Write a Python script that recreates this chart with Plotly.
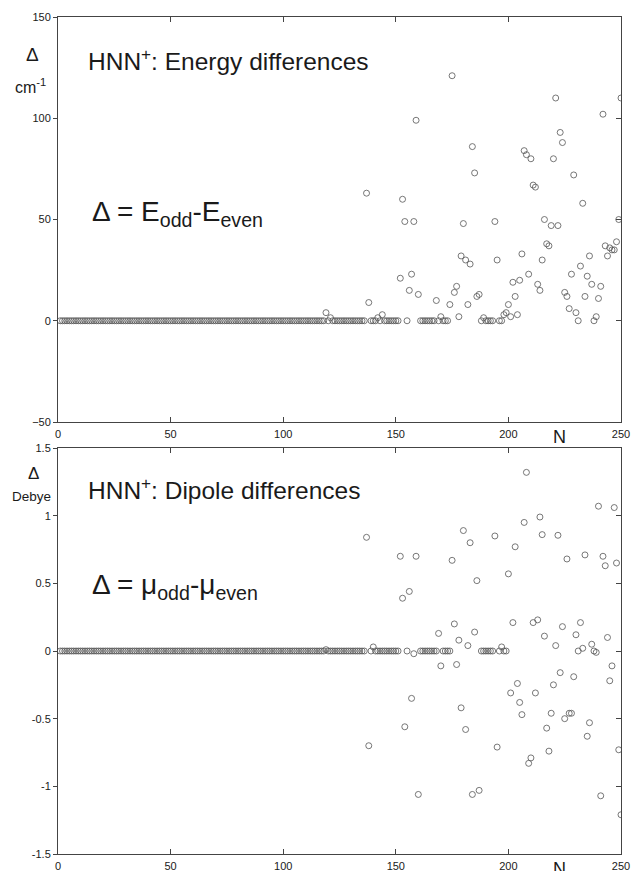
import plotly.graph_objects as go

# ---------------- data ----------------
N = list(range(1, 251))

energy_diff = [
    0, 0, 0, 0, 0, 0, 0, 0, 0, 0,            # 1-10
    0, 0, 0, 0, 0, 0, 0, 0, 0, 0,            # 11-20
    0, 0, 0, 0, 0, 0, 0, 0, 0, 0,            # 21-30
    0, 0, 0, 0, 0, 0, 0, 0, 0, 0,            # 31-40
    0, 0, 0, 0, 0, 0, 0, 0, 0, 0,            # 41-50
    0, 0, 0, 0, 0, 0, 0, 0, 0, 0,            # 51-60
    0, 0, 0, 0, 0, 0, 0, 0, 0, 0,            # 61-70
    0, 0, 0, 0, 0, 0, 0, 0, 0, 0,            # 71-80
    0, 0, 0, 0, 0, 0, 0, 0, 0, 0,            # 81-90
    0, 0, 0, 0, 0, 0, 0, 0, 0, 0,            # 91-100
    0, 0, 0, 0, 0, 0, 0, 0, 0, 0,            # 101-110
    0, 0, 0, 0, 0, 0, 0, 0, 4, 0,            # 111-120
    1.5, 0, 0, 0, 0, 0, 0, 0, 0, 0,          # 121-130
    0, 0, 0, 0, 0, 0, 63, 9, 0, 0,           # 131-140
    0, 1.5, 0, 3, 0, 0, 0, 0, 0, 0,          # 141-150
    0, 21, 60, 49, 0, 15, 23, 49, 99, 13,    # 151-160
    0, 0, 0, 0, 0, 0, 0, 10, 0, 2,           # 161-170
    0, 0, 0, 8, 121, 14, 17, 2, 32, 48,      # 171-180
    30, 8, 28, 86, 73, 12, 13, 0, 1.5, 0,    # 181-190
    0, 0, 0, 49, 30, 0, 0, 3, 4, 8,          # 191-200
    2, 19, 12, 3, 20, 33, 84, 82, 23, 80,    # 201-210
    67, 66, 18, 15, 30, 50, 38, 37, 47, 80,  # 211-220
    110, 47, 93, 88, 14, 12, 6, 23, 72, 4,   # 221-230
    0, 27, 58, 12, 22, 32, 18, 0, 2, 11,     # 231-240
    17, 102, 37, 32, 36, 35, 35, 39, 50, 110,  # 241-250
]

dipole_diff = [
    0, 0, 0, 0, 0, 0, 0, 0, 0, 0,            # 1-10
    0, 0, 0, 0, 0, 0, 0, 0, 0, 0,            # 11-20
    0, 0, 0, 0, 0, 0, 0, 0, 0, 0,            # 21-30
    0, 0, 0, 0, 0, 0, 0, 0, 0, 0,            # 31-40
    0, 0, 0, 0, 0, 0, 0, 0, 0, 0,            # 41-50
    0, 0, 0, 0, 0, 0, 0, 0, 0, 0,            # 51-60
    0, 0, 0, 0, 0, 0, 0, 0, 0, 0,            # 61-70
    0, 0, 0, 0, 0, 0, 0, 0, 0, 0,            # 71-80
    0, 0, 0, 0, 0, 0, 0, 0, 0, 0,            # 81-90
    0, 0, 0, 0, 0, 0, 0, 0, 0, 0,            # 91-100
    0, 0, 0, 0, 0, 0, 0, 0, 0, 0,            # 101-110
    0, 0, 0, 0, 0, 0, 0, 0, 0.01, 0,         # 111-120
    0, 0, 0, 0, 0, 0, 0, 0, 0, 0,            # 121-130
    0, 0, 0, 0, 0, 0, 0.84, -0.70, 0, 0.03,  # 131-140
    0, 0, 0, 0, 0, 0, 0, 0, 0, 0,            # 141-150
    0, 0.70, 0.39, -0.56, 0, 0.44, -0.35, -0.02, 0.70, -1.06,   # 151-160
    0, 0, 0, 0, 0, 0, 0, 0, 0.13, -0.11,     # 161-170
    0, 0, 0, 0, 0.67, 0.20, -0.10, 0.08, -0.42, 0.89,           # 171-180
    -0.58, 0.04, 0.80, -1.06, 0.14, 0.52, -1.03, 0, 0, 0,       # 181-190
    0, 0, 0, 0.85, -0.71, 0, 0.03, 0, 0, 0.57,                  # 191-200
    -0.31, 0.21, 0.77, -0.24, -0.38, -0.47, 0.95, 1.32, -0.83, -0.79,   # 201-210
    0.21, -0.31, 0.23, 0.99, 0.86, 0.11, -0.57, -0.74, -0.46, -0.25,    # 211-220
    0.04, 0.855, -0.16, 0.18, -0.50, 0.68, -0.46, -0.46, -0.19, 0.12,   # 221-230
    0, 0.21, 0.02, 0.71, -0.63, -0.53, 0.05, 0, -0.01, 1.07,            # 231-240
    -1.07, 0.70, 0.63, 0.10, -0.22, -0.11, 1.06, 0.65, -0.73, -1.21,    # 241-250
]

x_ticks = [0, 50, 100, 150, 200, 250]
e_ticks = [-50, 0, 50, 100, 150]
d_ticks = [-1.5, -1, -0.5, 0, 0.5, 1, 1.5]
d_tick_text = ["-1.5", "-1", "-0.5", "0", "0.5", "1", "1.5"]

# ---------------- style ----------------
W, H = 633, 871
L, R, T, B = 58, 12, 17, 17
FONT = "Liberation Sans, Arial, sans-serif"
TXT = "#1a1a1a"
AX = "#444444"
MK = "#555555"

def fx(px):
    return (px - L) / (W - L - R)

def fy(py):
    return (H - B - py) / (H - T - B)

top_dom = [fy(422), 1.0]
bot_dom = [0.0, fy(448)]

marker = dict(symbol="circle-open", size=6, color=MK, line=dict(width=0.8, color=MK))

fig = go.Figure()
fig.add_trace(go.Scatter(x=N, y=energy_diff, mode="markers", marker=marker,
                         xaxis="x", yaxis="y", showlegend=False))
fig.add_trace(go.Scatter(x=N, y=dipole_diff, mode="markers", marker=marker,
                         xaxis="x2", yaxis="y2", showlegend=False))
# empty traces to create the right-hand inside-tick axes
fig.add_trace(go.Scatter(x=[], y=[], xaxis="x", yaxis="y3", showlegend=False))
fig.add_trace(go.Scatter(x=[], y=[], xaxis="x2", yaxis="y4", showlegend=False))

tickfont = dict(family=FONT, size=11, color=TXT)

xcommon = dict(range=[0, 250], tickvals=x_ticks, ticks="inside", ticklen=5,
               tickcolor=AX, showline=True, linecolor=AX, linewidth=1,
               mirror="ticks", showgrid=False, zeroline=False, tickfont=tickfont,
               ticklabelstandoff=2, automargin=False)

ycommon = dict(ticks="outside", ticklen=4, tickcolor=AX, showline=True,
               linecolor=AX, linewidth=1, mirror=True, showgrid=False,
               zeroline=False, tickfont=tickfont, automargin=False)

yright = dict(side="right", ticks="inside", ticklen=5, tickcolor=AX,
              showticklabels=False, showline=False, showgrid=False,
              zeroline=False, automargin=False)

fig.update_layout(
    width=W, height=H,
    margin=dict(l=L, r=R, t=T, b=B, autoexpand=False),
    paper_bgcolor="white", plot_bgcolor="white",
    xaxis=dict(domain=[0, 1], anchor="y", **xcommon),
    xaxis2=dict(domain=[0, 1], anchor="y2", **xcommon),
    yaxis=dict(domain=top_dom, anchor="x", range=[-50, 150], tickvals=e_ticks, **ycommon),
    yaxis2=dict(domain=bot_dom, anchor="x2", range=[-1.5, 1.5], tickvals=d_ticks,
                ticktext=d_tick_text, **ycommon),
    yaxis3=dict(overlaying="y", anchor="x", range=[-50, 150], tickvals=e_ticks, **yright),
    yaxis4=dict(overlaying="y2", anchor="x2", range=[-1.5, 1.5], tickvals=d_ticks, **yright),
)

def ann(text, px, py, size, xanchor="left", yanchor="middle"):
    return dict(text=text, x=fx(px), y=fy(py), xref="paper", yref="paper",
                xanchor=xanchor, yanchor=yanchor, showarrow=False,
                font=dict(family=FONT, size=size, color=TXT))

annotations = [
    # top panel
    ann("Δ", 32, 55, 19, xanchor="center"),
    ann("cm<sup>-1</sup>", 30, 86, 16, xanchor="center"),
    ann("HNN<sup>+</sup>: Energy differences", 86, 60, 24.5),
    ann("Δ = E<sub>odd</sub>-E<sub>even</sub>", 90, 214, 28),
    ann("N", 559, 437, 18, xanchor="center"),
    # bottom panel
    ann("Δ", 33, 473, 17, xanchor="center"),
    ann("Debye", 31, 496, 13.5, xanchor="center"),
    ann("HNN<sup>+</sup>: Dipole differences", 86, 489, 24.5),
    ann("Δ = μ<sub>odd</sub>-μ<sub>even</sub>", 90, 586, 28),
    ann("N", 559, 869, 18, xanchor="center"),
]
fig.update_layout(annotations=annotations)

fig.write_html("out.html", config={"displayModeBar": False},
               post_script="document.body.style.margin='0px';document.body.style.overflow='hidden';")
